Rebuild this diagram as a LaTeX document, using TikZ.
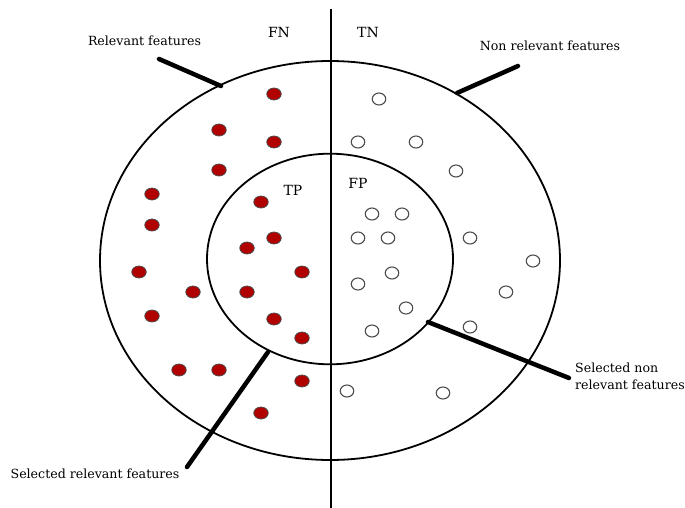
\documentclass[tikz,border=0pt]{standalone}
\usepackage{fontspec}
\setmainfont{DejaVu Serif}
\usetikzlibrary{shapes.geometric}
\definecolor{dotred}{HTML}{B00000}
\tikzset{
  rdot/.style={ellipse, draw=black!70, line width=0.8pt, fill=dotred, minimum width=14.5pt, minimum height=12pt, inner sep=0pt},
  odot/.style={ellipse, draw=black!70, line width=1.1pt, fill=white, minimum width=13.5pt, minimum height=12pt, inner sep=0pt},
  lbl/.style={font=\fontsize{12.6}{16.5}\selectfont, inner sep=0pt, text=black},
  quad/.style={font=\fontsize{14}{16}\selectfont, inner sep=0pt},
  leader/.style={line width=4.5pt, line cap=round},
  ring/.style={line width=1.8pt}
}
\begin{document}
\begin{tikzpicture}[x=1pt,y=-1pt]
\useasboundingbox (0,0) rectangle (685,508);
% rings
\draw[ring] (330,260.5) ellipse [x radius=230, y radius=199.5];
\draw[ring] (330,259) ellipse [x radius=123, y radius=105.3];
% divider
\coordinate (vtop) at (331,9);
\coordinate (vbot) at (331,508);
\draw[line width=1.8pt] (vtop) -- (vbot);
% red dots
\foreach \x/\y [count=\i] in {274/94,219/130,274/142,219/170,152/194,152/225,261/202,274/238,247/248,139/272,302/272,193/292,247/292,152/316,274/319,302/338,179/370,219/370,302/381,261/413}
  \node[rdot] (r\i) at (\x,\y) {};
% open dots
\foreach \x/\y [count=\i] in {379/99,358/142,416/142,456/171,372/214,402/214,358/238,388/238,470/238,533/261,392/273,358/284,506/292,406/308,372/331,470/327,347/391,443/393}
  \node[odot] (o\i) at (\x,\y) {};
% quadrant labels
\node[quad] (fn) at (279,32) {FN};
\node[quad] (tn) at (368,32) {TN};
\node[quad] (tp) at (293,190) {TP};
\node[quad] (fp) at (358,183) {FP};
% feature labels
\node[lbl] (rel) at (144.5,41) {Relevant features};
\node[lbl] (nrel) at (550,46) {Non relevant features};
\node[lbl] (srel) at (95,474) {Selected relevant features};
\node[lbl, anchor=north west, align=left] (snrel) at (575,363) {Selected non\\relevant features};
% leader lines
\coordinate (a1) at (159,59); \coordinate (a2) at (221,86);
\coordinate (b1) at (457,93); \coordinate (b2) at (518,66);
\coordinate (c1) at (268,352); \coordinate (c2) at (187,467);
\coordinate (d1) at (428,322); \coordinate (d2) at (569,378);
\draw[leader] (a1) -- (a2);
\draw[leader] (b1) -- (b2);
\draw[leader] (c1) -- (c2);
\draw[leader] (d1) -- (d2);
\end{tikzpicture}
\end{document}
